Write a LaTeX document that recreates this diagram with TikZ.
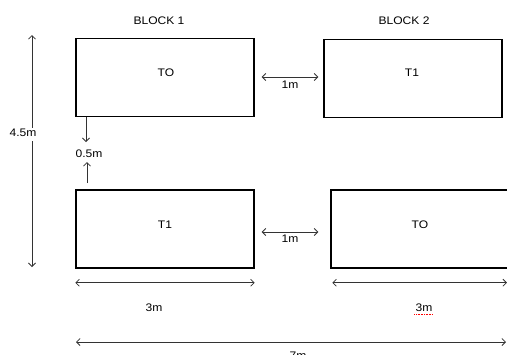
\documentclass[tikz,border=0pt]{standalone}
\usepackage{fontspec}
\setmainfont{Liberation Sans}[FakeStretch=1.1]
\usepackage{tikz}
\usetikzlibrary{arrows.meta,positioning,calc}

\begin{document}
\begin{tikzpicture}[x=1bp,y=-1bp,>={Straight Barb[length=3.5bp,width=7bp]},
  font=\fontsize{11}{12}\selectfont,
  blk/.style={draw=black,line width=1.4bp,minimum width=178bp,minimum height=78bp,inner sep=0pt},
  dim/.style={draw=black!80,line width=0.8bp},
  txt/.style={inner sep=1pt,text=black}]
  \useasboundingbox (0,0) rectangle (507,354);
  % blocks
  \node[blk] (b1top) at (165,77.5) {};
  \node[blk] (b2top) at (413,78.5) {};
  \node[blk] (b1bot) at (165,229) {};
  \node[blk] (b2bot) at (420,229) {};
  \node[txt] (blk1) at (159,21) {BLOCK 1};
  \node[txt] (blk2) at (404,21) {BLOCK 2};
  \node[txt] (t0a) at ($(b1top)+(1,-4.5)$) {TO};
  \node[txt] (t1a) at ($(b2top)+(-1,-5.5)$) {T1};
  \node[txt] (t1b) at ($(b1bot)+(0,-4)$) {T1};
  \node[txt] (t0b) at ($(b2bot)+(0,-4)$) {TO};
  % gaps between blocks
  \coordinate (g1l) at ([xshift=7bp,yshift=0.5bp]b1top.east);
  \coordinate (g1r) at ([xshift=-5bp]b2top.west);
  \draw[dim,<->] (g1l) -- (g1l -| g1r)
       node[txt,midway,below=3pt] (g1) {1m};
  \coordinate (g2l) at ([xshift=7bp,yshift=-3bp]b1bot.east);
  \coordinate (g2r) at ([xshift=-12bp]b2bot.west);
  \draw[dim,<->] (g2l) -- (g2l -| g2r)
       node[txt,midway,below=2pt] (g2) {1m};
  % total height
  \node[txt] (h45) at (23,133) {4.5m};
  \coordinate (htop) at (32,35);
  \coordinate (hbot) at (32,267);
  \draw[dim,->] (h45.north -| htop) -- (htop);
  \draw[dim,->] (h45.south -| hbot) ++(0,3) -- (hbot);
  % row gap
  \node[txt] (h05) at (89,154) {0.5m};
  \coordinate (ga) at (86,142);
  \coordinate (gb) at (87,162);
  \draw[dim,->] (b1top.south west -| ga) -- (ga);
  \draw[dim,->] (87,183) -- (gb);
  % widths
  \draw[dim,<->] ([yshift=-14bp]b1bot.south west) -- ([yshift=-14bp]b1bot.south east);
  \node[txt] (w1) at (154,308) {3m};
  \coordinate (w2l) at ([xshift=2bp,yshift=-14bp]b2bot.south west);
  \coordinate (w2r) at (507,282);
  \draw[dim,<->] (w2l) -- (w2l -| w2r);
  \node[txt] (w2) at (424,308) {3m};
  \draw[red,densely dotted,line width=0.6bp] ([yshift=-1bp]w2.south west) -- ([yshift=-1bp]w2.south east);
  \coordinate (wl) at (76,342);
  \coordinate (wr) at (506,342);
  \draw[dim,<->] (wl) -- (wr);
  \node[txt] (w7) at (298,356) {7m};
\end{tikzpicture}
\end{document}
